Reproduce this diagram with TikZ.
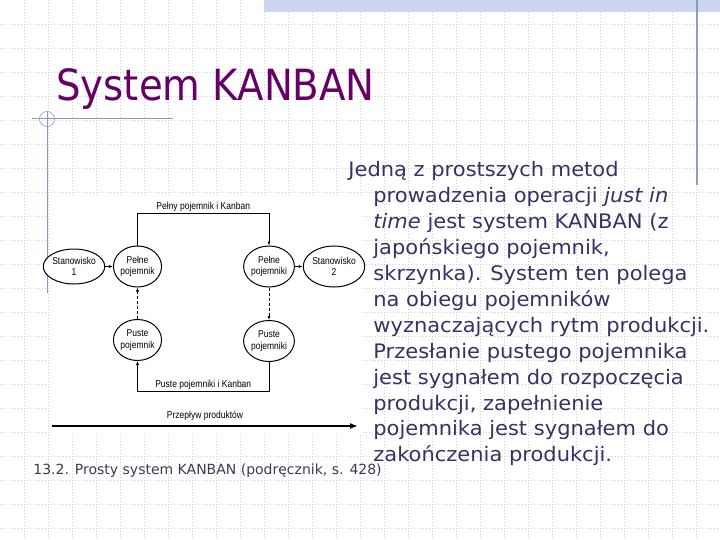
\documentclass[tikz,border=0pt]{standalone}
\usepackage{fontspec}
\setmainfont{DejaVu Sans}
\newfontfamily\titlefont{DejaVu Sans Condensed}
\newfontfamily\bodyfont{DejaVu Sans}[FakeStretch=1.05]
\newfontfamily\diagfont{Liberation Sans}[FakeStretch=0.85]
\usetikzlibrary{arrows.meta,positioning,shapes.geometric,calc}
\definecolor{ctitle}{HTML}{660066}
\definecolor{cbody}{HTML}{333366}
\definecolor{ccap}{HTML}{3C3C50}
\definecolor{cgrid}{HTML}{CFCFCF}
\definecolor{cdeco}{HTML}{8A9CC4}
\definecolor{cband}{HTML}{CCD6EE}
\tikzset{
  >={Latex[length=4pt,width=3.2pt]},
  every picture/.style={line width=0.8pt},
  pot/.style={ellipse,draw=black,line width=1pt,fill=white,inner sep=0pt,minimum width=48pt,minimum height=41pt,align=center,font=\diagfont\fontsize{10}{11.5}\selectfont},
  arr/.style={->,draw=black,line width=0.8pt},
  dsh/.style={arr,dash pattern=on 3pt off 2pt},
  lab/.style={font=\diagfont\fontsize{10}{11.5}\selectfont,inner sep=1.5pt},
  flow/.style={-{Latex[length=8pt,width=6pt]},draw=black,line width=2pt},
  gridline/.style={draw=cgrid,line width=0.6pt,dash pattern=on 1pt off 2pt},
  deco/.style={draw=cdeco,line width=1pt},
}

\begin{document}
\begin{tikzpicture}[x=1pt,y=-1pt]
  \useasboundingbox (0,0) rectangle (720,540);
  % slide background
  \fill[white] (0,0) rectangle (720,540);
  \foreach \g in {24,48,...,696} \draw[gridline] (\g,0) -- (\g,540);
  \foreach \g in {24,48,...,528} \draw[gridline] (0,\g) -- (720,\g);
  \fill[cband] (264,0) rectangle (720,12.5);
  \draw[deco,line width=1.5pt] (697,0) -- (697,185);
  \draw[deco] (32,119) -- (173,119);
  \draw[deco] (47.5,112) -- (47.5,293);
  \draw[deco,line width=0.6pt] (47,119) circle (7.5);
  % title
  \node[anchor=base west,inner sep=0,text=ctitle,font=\titlefont\fontsize{43}{50}\selectfont] (title) at (56,101) {System KANBAN};
  % figure
  \fill[white] (48.5,196) rectangle (362,433);
  \node[pot,minimum width=51pt,minimum height=35pt] (st1) at (74,266.5) {Stanowisko\\1};
  \node[pot] (pl1) at (137.5,266.5) {Pełne\\pojemnik};
  \node[pot] (pr1) at (269,266.5) {Pełne\\pojemniki};
  \node[pot,minimum width=50pt] (st2) at (334,266.5) {Stanowisko\\2};
  \node[pot] (pl2) at (137.5,340) {Puste\\pojemnik};
  \node[pot] (pr2) at (269,341) {Puste\\pojemniki};
  \coordinate (fl) at (52,426);
  \coordinate (fr) at (358,426);
  % arrows
  \draw[arr] (st1) -- (pl1);
  \draw[arr] (pr1) -- (st2);
  \draw[arr] (pl1.north) -- ++(0,-32.5) -| node[lab,above,pos=0.25]{Pełny pojemnik i Kanban} (pr1.north);
  \draw[arr] (pr2.south) -- ++(0,29) -| node[lab,above,pos=0.25]{Puste pojemniki i Kanban} (pl2.south);
  \draw[dsh] (pl2) -- (pl1);
  \draw[dsh] (pr1) -- (pr2);
  \draw[flow] (fl) -- node[lab,above=3pt]{Przepływ produktów} (fr);
  % caption and text
  \node[anchor=base west,inner sep=0,text=ccap,font=\fontsize{14}{16}\selectfont] (cap) at (33,474) {13.2. Prosty system KANBAN (podręcznik, s. 428)};
  \node[anchor=base west,inner sep=0,text=cbody,font=\bodyfont] (body) at (348,177) {\parbox[t]{400pt}{\fontsize{20}{25.9}\selectfont\raggedright\hangindent=25pt\hangafter=1
    Jedną z prostszych metod\newline
    prowadzenia operacji \textit{just in}\newline
    \textit{time} jest system KANBAN (z\newline
    japońskiego pojemnik,\newline
    skrzynka). System ten polega\newline
    na obiegu pojemników\newline
    wyznaczających rytm produkcji.\newline
    Przesłanie pustego pojemnika\newline
    jest sygnałem do rozpoczęcia\newline
    produkcji, zapełnienie\newline
    pojemnika jest sygnałem do\newline
    zakończenia produkcji.}};
\end{tikzpicture}
\end{document}
